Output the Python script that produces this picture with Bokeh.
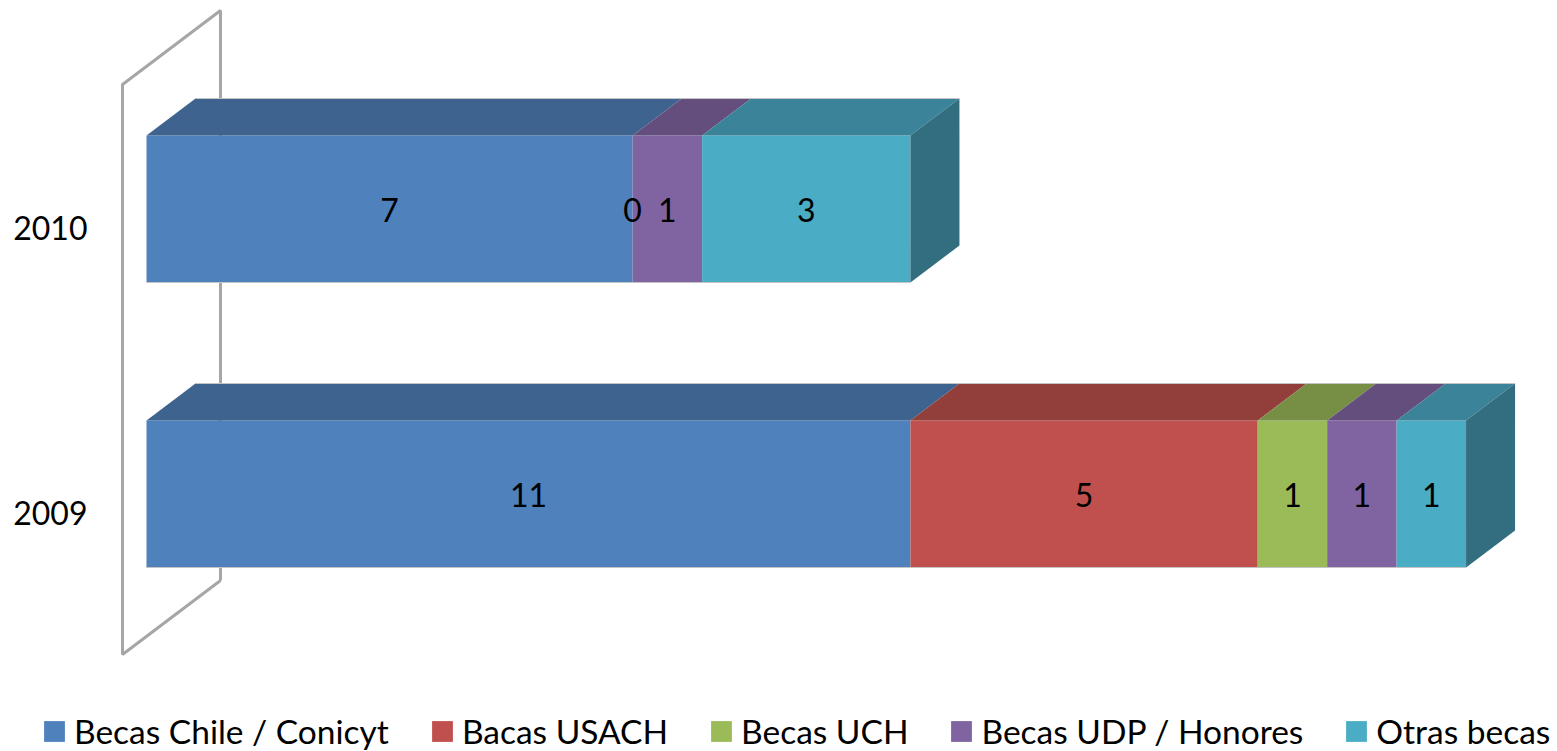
from bokeh.plotting import figure
from bokeh.models import ColumnDataSource, Range1d, FixedTicker, Legend, LegendItem
from bokeh.core.properties import value
from bokeh.embed import file_html
from bokeh.resources import INLINE

years = ["2009", "2010"]
becas_chile = [11, 7]
bacas_usach = [5, 0]
becas_uch = [1, None]
becas_udp = [1, 1]
otras_becas = [1, 3]

series_names = ["Becas Chile / Conicyt", "Bacas USACH", "Becas UCH", "Becas UDP / Honores", "Otras becas"]
series_values = [becas_chile, bacas_usach, becas_uch, becas_udp, otras_becas]
front_colors = ["#4f81bd", "#c0504d", "#9bbb59", "#8064a2", "#4bacc6"]
top_colors = ["#3e638f", "#923e3b", "#778f45", "#634e7e", "#3a8398"]
side_color = "#336d80"
wall_color = "#a6a6a6"
edge_color = "#c4c4c4"

FONT = "Lato"
FS = "32px"
LEGEND_FS = "33.5px"

PX_X = 69.45   # pixels per unit on x
PX_Y = 285.0   # pixels per category step on y
half_h = 73.5 / PX_Y
depth_x = 49 / PX_X
depth_y = 37 / PX_Y
tick_shift = -19 / PX_Y

positions = list(range(len(years)))

p = figure(width=1557, height=751, output_backend="svg", toolbar_location=None,
           x_range=Range1d(-146 / PX_X, 1411 / PX_X),
           y_range=Range1d(-257.5 / PX_Y, 493.5 / PX_Y),
           min_border_left=0, min_border_right=0, min_border_top=0, min_border_bottom=0,
           outline_line_color=None, background_fill_color="white", border_fill_color="white")
p.grid.visible = False
p.xaxis.visible = False

yax = p.yaxis[0]
yax.fixed_location = -51 / PX_X
yax.ticker = FixedTicker(ticks=[y + tick_shift for y in positions])
yax.major_label_overrides = {y + tick_shift: years[y] for y in positions}
yax.axis_line_color = None
yax.major_tick_line_color = None
yax.minor_tick_line_color = None
yax.major_label_standoff = 2
yax.major_label_text_font = FONT
yax.major_label_text_font_size = FS
yax.major_label_text_color = "black"

# back wall
wall_dx, wall_dy = 98 / PX_X, 74 / PX_Y
wl, wb, wt = -24 / PX_X, -160.5 / PX_Y, 409.5 / PX_Y
p.line([wl + wall_dx, wl, wl, wl + wall_dx, wl + wall_dx],
       [wb + wall_dy, wb, wt, wt + wall_dy, wb + wall_dy], line_color=wall_color, line_width=3)

items = []
lefts = [0.0] * len(years)
lab_x, lab_y, lab_t = [], [], []
for name, vals, fc, tc in zip(series_names, series_values, front_colors, top_colors):
    l = list(lefts)
    r = [a + (v or 0) for a, v in zip(l, vals)]
    src = ColumnDataSource(dict(
        left=l, right=r,
        bottom=[y - half_h for y in positions],
        top=[y + half_h for y in positions]))
    rend = p.quad(left="left", right="right", bottom="bottom", top="top", source=src,
                  fill_color=fc, line_color=None)
    p.patches(
        [[a, b, b + depth_x, a + depth_x] for a, b in zip(l, r)],
        [[y + half_h, y + half_h, y + half_h + depth_y, y + half_h + depth_y] for y in positions],
        fill_color=tc, line_color=None)
    items.append(LegendItem(label=name, renderers=[rend]))
    for y, a, b, v in zip(positions, l, r, vals):
        if v is not None:
            lab_x.append((a + b) / 2)
            lab_y.append(y)
            lab_t.append(str(v))
    lefts = r

# right side faces and fine edge lines
p.patches(
    [[e, e + depth_x, e + depth_x, e] for e in lefts],
    [[y - half_h, y - half_h + depth_y, y + half_h + depth_y, y + half_h] for y in positions],
    fill_color=side_color, line_color=None)
for y, e in zip(positions, lefts):
    p.line([depth_x, e + depth_x], [y + half_h + depth_y] * 2, line_color=edge_color, line_width=1)
    p.line([0, e], [y - half_h] * 2, line_color=edge_color, line_width=1)

p.text(lab_x, lab_y, text=lab_t, text_align="center", text_baseline="middle", y_offset=1,
       text_font=value(FONT), text_font_size=FS, text_color="black")

legend = Legend(items=items, orientation="horizontal", location=(41, 0),
                glyph_width=26, glyph_height=26, label_standoff=7, spacing=40,
                label_text_font=FONT, label_text_font_size=LEGEND_FS, label_text_color="black",
                border_line_color=None, background_fill_alpha=0,
                margin=0, padding=0)
p.add_layout(legend, "center")

open("out.html", "w").write(file_html(p, INLINE))
